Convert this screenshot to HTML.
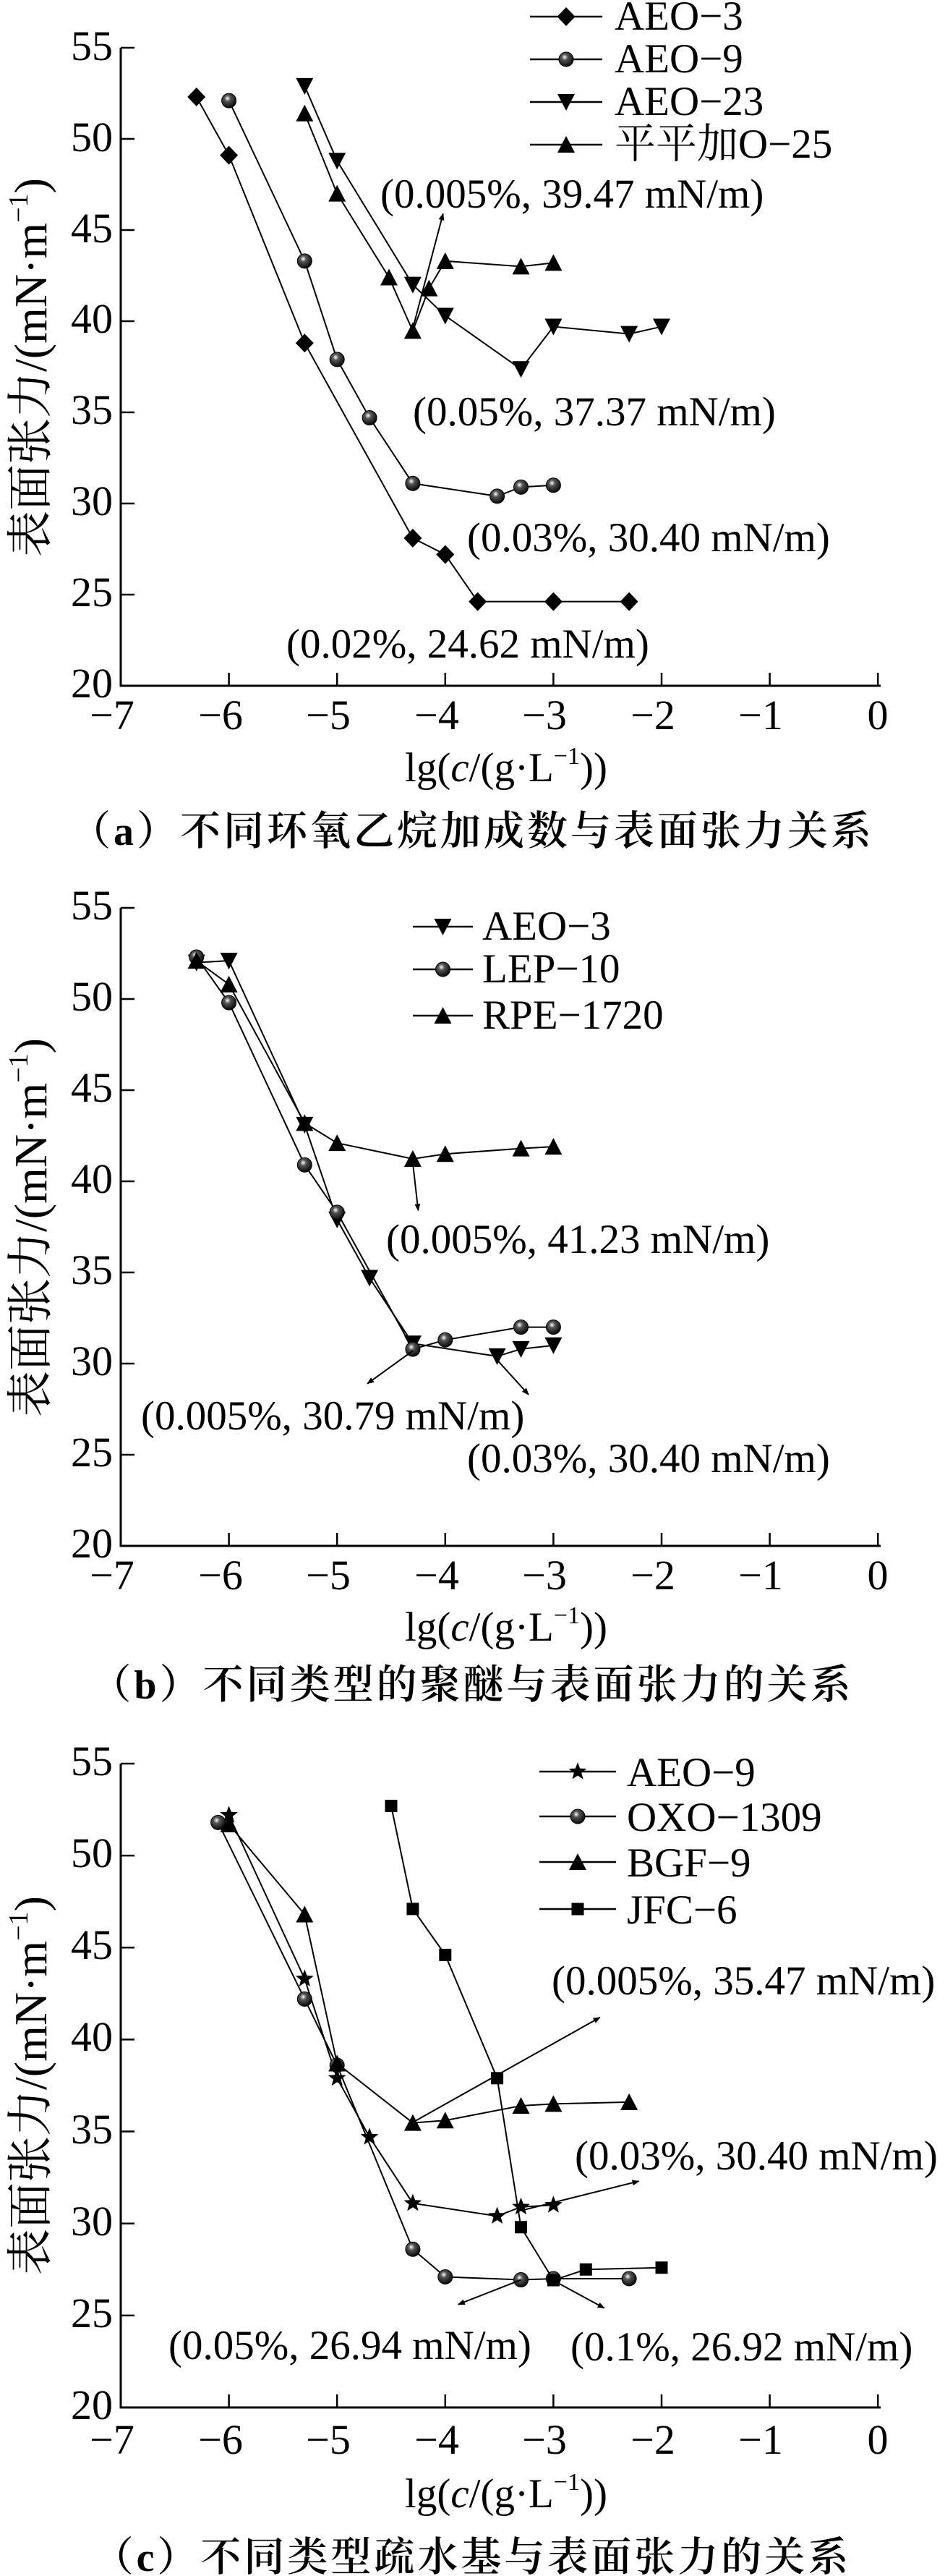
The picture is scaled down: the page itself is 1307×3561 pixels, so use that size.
<!DOCTYPE html>
<html><head><meta charset="utf-8"><style>
html,body{margin:0;padding:0;background:#fff;}
svg{display:block;}
text{font-family:"Liberation Serif","Noto Serif CJK SC",serif;fill:#000;}
.t{font-size:58px;}
.a{font-size:57px;}
.yl{font-size:64px;}
.cap{font-size:56px;font-family:"Liberation Serif","Noto Serif CJK SC",serif;font-weight:600;letter-spacing:4px;}
</style></head><body>
<svg id="s" width="1307" height="3561" viewBox="0 0 1307 3561" xmlns="http://www.w3.org/2000/svg">
<defs>
<radialGradient id="ball" cx="0.4" cy="0.35" r="0.7"><stop offset="0" stop-color="#fff"/><stop offset="0.3" stop-color="#555"/><stop offset="1" stop-color="#000"/></radialGradient>
<marker id="ah" markerWidth="10" markerHeight="8" refX="9" refY="4" orient="auto" markerUnits="userSpaceOnUse" viewBox="0 0 10 8"><path d="M0,0 L10,4 L0,8 Z" fill="#000"/></marker>
</defs>
<g id="g"></g>
<!-- Panel a texts -->
<g class="t" text-anchor="end">
<text x="156" y="83">55</text><text x="156" y="209">50</text><text x="156" y="335">45</text><text x="156" y="460">40</text><text x="156" y="586">35</text><text x="156" y="712">30</text><text x="156" y="838">25</text><text x="156" y="964">20</text>
</g>
<g class="t" text-anchor="middle">
<text x="155" y="1008">−7</text><text x="305" y="1008">−6</text><text x="454" y="1008">−5</text><text x="604" y="1008">−4</text><text x="753" y="1008">−3</text><text x="903" y="1008">−2</text><text x="1052" y="1008">−1</text><text x="1214" y="1008">0</text>
</g>
<text class="a" x="700" y="1080" text-anchor="middle">lg(<tspan font-style="italic">c</tspan>/(g·L<tspan font-size="34" dy="-24">−1</tspan><tspan dy="24">))</tspan></text>
<text class="cap" x="653" y="1168" text-anchor="middle">（a）不同环氧乙烷加成数与表面张力关系</text>
<text class="yl" transform="translate(64,508) rotate(-90)" text-anchor="middle">表面张力/(mN·m<tspan font-size="38" dy="-26">−1</tspan><tspan dy="26">)</tspan></text>
<g class="a">
<text x="850" y="41">AEO−3</text><text x="850" y="100">AEO−9</text><text x="850" y="159">AEO−23</text><text x="850" y="218">平平加O−25</text>
<text x="526" y="287">(0.005%, 39.47 mN/m)</text>
<text x="571" y="588">(0.05%, 37.37 mN/m)</text>
<text x="646" y="762">(0.03%, 30.40 mN/m)</text>
<text x="396" y="909">(0.02%, 24.62 mN/m)</text>
</g>
<!-- Panel b texts -->
<g class="t" text-anchor="end">
<text x="156" y="1271">55</text><text x="156" y="1397">50</text><text x="156" y="1523">45</text><text x="156" y="1649">40</text><text x="156" y="1775">35</text><text x="156" y="1901">30</text><text x="156" y="2027">25</text><text x="156" y="2153">20</text>
</g>
<g class="t" text-anchor="middle">
<text x="155" y="2197">−7</text><text x="305" y="2197">−6</text><text x="454" y="2197">−5</text><text x="604" y="2197">−4</text><text x="753" y="2197">−3</text><text x="903" y="2197">−2</text><text x="1052" y="2197">−1</text><text x="1214" y="2197">0</text>
</g>
<text class="a" x="700" y="2268" text-anchor="middle">lg(<tspan font-style="italic">c</tspan>/(g·L<tspan font-size="34" dy="-24">−1</tspan><tspan dy="24">))</tspan></text>
<text class="cap" x="653" y="2348" text-anchor="middle">（b）不同类型的聚醚与表面张力的关系</text>
<text class="yl" transform="translate(64,1697) rotate(-90)" text-anchor="middle">表面张力/(mN·m<tspan font-size="38" dy="-26">−1</tspan><tspan dy="26">)</tspan></text>
<g class="a">
<text x="667" y="1299">AEO−3</text><text x="667" y="1358">LEP−10</text><text x="667" y="1422">RPE−1720</text>
<text x="534" y="1732">(0.005%, 41.23 mN/m)</text>
<text x="195" y="1976">(0.005%, 30.79 mN/m)</text>
<text x="646" y="2035">(0.03%, 30.40 mN/m)</text>
</g>
<!-- Panel c texts -->
<g class="t" text-anchor="end">
<text x="156" y="2454">55</text><text x="156" y="2581">50</text><text x="156" y="2708">45</text><text x="156" y="2835">40</text><text x="156" y="2963">35</text><text x="156" y="3090">30</text><text x="156" y="3217">25</text><text x="156" y="3344">20</text>
</g>
<g class="t" text-anchor="middle">
<text x="155" y="3392">−7</text><text x="305" y="3392">−6</text><text x="454" y="3392">−5</text><text x="604" y="3392">−4</text><text x="753" y="3392">−3</text><text x="903" y="3392">−2</text><text x="1052" y="3392">−1</text><text x="1214" y="3392">0</text>
</g>
<text class="a" x="700" y="3466" text-anchor="middle">lg(<tspan font-style="italic">c</tspan>/(g·L<tspan font-size="34" dy="-24">−1</tspan><tspan dy="24">))</tspan></text>
<text class="cap" x="653" y="3554" text-anchor="middle">（c）不同类型疏水基与表面张力的关系</text>
<text class="yl" transform="translate(64,2883) rotate(-90)" text-anchor="middle">表面张力/(mN·m<tspan font-size="38" dy="-26">−1</tspan><tspan dy="26">)</tspan></text>
<g class="a">
<text x="867" y="2469">AEO−9</text><text x="867" y="2531">OXO−1309</text><text x="867" y="2594">BGF−9</text><text x="867" y="2659">JFC−6</text>
<text x="763" y="2757">(0.005%, 35.47 mN/m)</text>
<text x="795" y="2999">(0.03%, 30.40 mN/m)</text>
<text x="233" y="3261">(0.05%, 26.94 mN/m)</text>
<text x="789" y="3263">(0.1%, 26.92 mN/m)</text>
</g>
</svg>
<script>
(function(){
var NS="http://www.w3.org/2000/svg",g=document.getElementById('g');
function el(n,a){var e=document.createElementNS(NS,n);for(var k in a)e.setAttribute(k,a[k]);g.appendChild(e);return e;}
function X(v){return 167+(v+7)*149.6;}
function marker(t,x,y){
 if(t=='d'){el('polygon',{points:[x,y-13,x+12.5,y,x,y+13,x-12.5,y].join(' '),fill:'#000'});}
 else if(t=='b'){el('circle',{cx:x,cy:y,r:10,fill:'url(#ball)',stroke:'#000','stroke-width':1});}
 else if(t=='v'){el('polygon',{points:[x-12,y-11,x+12,y-11,x,y+12].join(' '),fill:'#000'});}
 else if(t=='u'){el('polygon',{points:[x-12,y+11,x+12,y+11,x,y-12].join(' '),fill:'#000'});}
 else if(t=='s'){el('rect',{x:x-8.5,y:y-8.5,width:17,height:17,fill:'#000'});}
 else if(t=='st'){var p=[];for(var i=0;i<10;i++){var r=i%2?5.5:13,a=-Math.PI/2+i*Math.PI/5;p.push((x+r*Math.cos(a)).toFixed(1)+','+(y+r*Math.sin(a)).toFixed(1));}el('polygon',{points:p.join(' '),fill:'#000'});}
}
function panel(y20,K,series,legend,arrows){
 var Y=function(v){return y20-(v-20)*K;};
 el('path',{d:'M167,'+(y20-35*K)+' L167,'+y20+' L1218,'+y20,fill:'none',stroke:'#000','stroke-width':3});
 for(var i=-6;i<=0;i++){el('line',{x1:X(i),y1:y20,x2:X(i),y2:y20-18,stroke:'#000','stroke-width':2.5});}
 for(var v=25;v<=55;v+=5){el('line',{x1:167,y1:Y(v),x2:186,y2:Y(v),stroke:'#000','stroke-width':2.5});}
 series.forEach(function(s){
  el('polyline',{points:s.d.map(function(p){return X(p[0])+','+Y(p[1]);}).join(' '),fill:'none',stroke:'#000','stroke-width':2});
  s.d.forEach(function(p){marker(s.m,X(p[0]),Y(p[1]));});
 });
 legend.forEach(function(l){
  el('line',{x1:l.x1,y1:l.y,x2:l.x2,y2:l.y,stroke:'#000','stroke-width':2.5});
  marker(l.m,(l.x1+l.x2)/2,l.y);
 });
 arrows.forEach(function(a){
  el('line',{x1:X(a[0]),y1:Y(a[1]),x2:X(a[2]),y2:Y(a[3]),stroke:'#000','stroke-width':2,'marker-end':'url(#ah)'});
 });
}
panel(948,25.2,[
 {m:'d',d:[[-6.3,52.3],[-6,49.1],[-5.3,38.8],[-4.3,28.1],[-4,27.2],[-3.7,24.62],[-3,24.62],[-2.3,24.62]]},
 {m:'b',d:[[-6,52.1],[-5.3,43.3],[-5,37.9],[-4.7,34.7],[-4.3,31.1],[-3.52,30.4],[-3.3,30.9],[-3,31.0]]},
 {m:'v',d:[[-5.3,52.9],[-5,48.8],[-4.3,42.0],[-4,40.3],[-3.3,37.37],[-3,39.7],[-2.3,39.3],[-2,39.7]]},
 {m:'u',d:[[-5.3,51.4],[-5,47.0],[-4.52,42.4],[-4.3,39.47],[-4.15,41.8],[-4,43.3],[-3.3,43.0],[-3,43.2]]}
],[{x1:733,x2:833,y:23,m:'d'},{x1:733,x2:833,y:82,m:'b'},{x1:733,x2:833,y:141,m:'v'},{x1:733,x2:833,y:200,m:'u'}],
[[-4.3,39.6,-4.02,45.9]]);
panel(2137,25.2,[
 {m:'v',d:[[-6.3,52.0],[-6,52.1],[-5.3,43.1],[-5,37.9],[-4.7,34.7],[-4.3,31.1],[-3.52,30.4],[-3.3,30.8],[-3,31.0]]},
 {m:'b',d:[[-6.3,52.3],[-6,49.8],[-5.3,40.9],[-5,38.3],[-4.3,30.79],[-4,31.3],[-3.3,32.0],[-3,32.0]]},
 {m:'u',d:[[-6.3,52.1],[-6,50.8],[-5.3,43.2],[-5,42.1],[-4.3,41.23],[-4,41.5],[-3.3,41.8],[-3,41.9]]}
],[{x1:571,x2:654,y:1281,m:'v'},{x1:571,x2:654,y:1340,m:'b'},{x1:571,x2:654,y:1404,m:'u'}],
[[-4.3,41.0,-4.25,38.4],[-4.3,30.7,-4.72,28.9],[-3.52,30.2,-3.23,28.3]]);
panel(3328,25.43,[
 {m:'st',d:[[-6,52.2],[-5.3,43.3],[-5,37.9],[-4.7,34.7],[-4.3,31.1],[-3.52,30.4],[-3.3,30.9],[-3,31.0]]},
 {m:'b',d:[[-6.1,51.8],[-5.3,42.2],[-5,38.6],[-4.3,28.6],[-4,27.1],[-3.3,26.94],[-3,27.0],[-2.3,27.0]]},
 {m:'u',d:[[-6,51.7],[-5.3,46.8],[-5,38.7],[-4.3,35.47],[-4,35.6],[-3.3,36.4],[-3,36.5],[-2.3,36.6]]},
 {m:'s',d:[[-4.5,52.7],[-4.3,47.1],[-4,44.6],[-3.52,37.9],[-3.3,29.8],[-3,26.92],[-2.7,27.5],[-2,27.6]]}
],[{x1:746,x2:852,y:2449,m:'st'},{x1:746,x2:852,y:2511,m:'b'},{x1:746,x2:852,y:2574,m:'u'},{x1:746,x2:852,y:2639,m:'s'}],
[[-4.3,35.5,-2.57,41.2],[-3.3,30.7,-2.21,32.3],[-3.3,26.94,-3.88,25.6],[-3,26.9,-2.53,25.4]]);
})();
</script>
</body></html>
